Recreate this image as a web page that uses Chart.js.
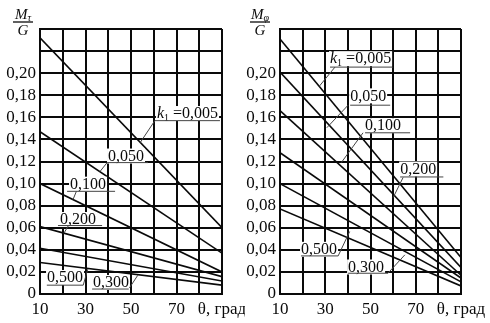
<!DOCTYPE html>
<html>
<head>
<meta charset="utf-8">
<title>M/G – θ</title>
<script src="https://cdn.jsdelivr.net/npm/chart.js"></script>
<style>
  body { margin: 0; background: #fff; }
  .panel { position: absolute; top: 0; width: 245px; height: 323px; }
  #left { left: 0; }
  #right { left: 245px; }
</style>
</head>
<body>
<div class="panel" id="left"><canvas id="chartTau" width="245" height="323"></canvas></div>
<div class="panel" id="right"><canvas id="chartPhi" width="245" height="323"></canvas></div>

<script>
// angle range, degrees
const theta = [10, 90];
const kLabels = ['0,005', '0,050', '0,100', '0,200', '0,300', '0,500'];

// M_tau / G at theta = 10 and theta = 90
const tauStart = [0.232, 0.147, 0.100, 0.061, 0.0415, 0.0285];
const tauEnd   = [0.060, 0.037, 0.020, 0.0157, 0.0118, 0.008];

// M_phi / G at theta = 10 and theta = 90
const phiStart = [0.231, 0.201, 0.166, 0.128, 0.100, 0.077];
const phiEnd   = [0.033, 0.024, 0.017, 0.0145, 0.011, 0.0073];

const xTickLabels = { 10: '10', 30: '30', 50: '50', 70: '70', 90: 'θ, град' };
const yLabelMax = 0.20;

// line captions: text position [θ, value], underline [θ1, θ2, value], leader [θa, va, θb, vb]
const tauNotes = [
  { k: true, text: kLabels[0], at: [61.4, 0.163], under: [60.5, 89.1, 0.157], leader: [60.5, 0.157, 54, 0.137] },
  { text: kLabels[1], at: [39.9, 0.1245], under: [39.5, 57.5, 0.119], leader: [39.5, 0.119, 36.4, 0.111] },
  { text: kLabels[2], at: [23.2, 0.099], under: [21.9, 43, 0.093], leader: [26, 0.093, 24.5, 0.0855] },
  { text: kLabels[3], at: [18.8, 0.067], under: [17.9, 37.3, 0.062], leader: [22.5, 0.062, 20.5, 0.055] },
  { text: kLabels[5], at: [13.1, 0.0145], under: [13, 29, 0.008], leader: [29, 0.008, 31, 0.0225] },
  { text: kLabels[4], at: [33.3, 0.010], under: [32.9, 49, 0.0045], leader: [49.3, 0.0055, 53, 0.017] }
];
const phiNotes = [
  { k: true, text: kLabels[0], at: [32.1, 0.2127], under: [32.1, 60, 0.2055], leader: [34.3, 0.2055, 27.3, 0.188] },
  { text: kLabels[1], at: [41, 0.179], under: [41, 58.7, 0.171], leader: [40.1, 0.171, 30.7, 0.1506] },
  { text: kLabels[2], at: [47.6, 0.152], under: [47.6, 67.5, 0.146], leader: [46.7, 0.146, 37.1, 0.119] },
  { text: kLabels[3], at: [63.1, 0.1127], under: [63.1, 82.2, 0.106], leader: [64.4, 0.1055, 60, 0.0873] },
  { text: kLabels[5], at: [19.3, 0.040], under: [19.3, 35.7, 0.0345], leader: [35.7, 0.0345, 40.8, 0.0566] },
  { text: kLabels[4], at: [40.1, 0.024], under: [40.1, 57.8, 0.0188], leader: [57.8, 0.019, 65.2, 0.0355] }
];

const ink = '#0a0a0a';
const serif = '"Liberation Serif", "DejaVu Serif", serif';

// captions with white backing, underline and leader line
const notesPlugin = {
  id: 'notes',
  afterDatasetsDraw(chart, args, opts) {
    const ctx = chart.ctx;
    const xs = chart.scales.x, ys = chart.scales.y;
    ctx.save();
    ctx.textBaseline = 'middle';
    opts.items.forEach(n => {
      const x0 = xs.getPixelForValue(n.at[0]);
      const y0 = ys.getPixelForValue(n.at[1]);
      // pieces of the caption
      const parts = n.k
        ? [{ t: 'k', f: 'italic 16px ' + serif, dy: 0 }, { t: '1', f: '10px ' + serif, dy: 4 }, { t: ' =' + n.text, f: '16px ' + serif, dy: 0 }]
        : [{ t: n.text, f: '16px ' + serif, dy: 0 }];
      let w = 0;
      parts.forEach(p => { ctx.font = p.f; p.w = ctx.measureText(p.t).width; w += p.w; });
      ctx.fillStyle = '#fff';
      ctx.fillRect(x0 - 1, y0 - 8, w + 2, 15);
      ctx.fillStyle = ink;
      let x = x0;
      parts.forEach(p => { ctx.font = p.f; ctx.fillText(p.t, x, y0 + p.dy); x += p.w; });

      ctx.strokeStyle = '#444';
      ctx.lineWidth = 1;
      ctx.beginPath();
      const uy = ys.getPixelForValue(n.under[2]);
      ctx.moveTo(xs.getPixelForValue(n.under[0]), uy);
      ctx.lineTo(xs.getPixelForValue(n.under[1]), uy);
      ctx.moveTo(xs.getPixelForValue(n.leader[0]), ys.getPixelForValue(n.leader[1]));
      ctx.lineTo(xs.getPixelForValue(n.leader[2]), ys.getPixelForValue(n.leader[3]));
      ctx.stroke();
    });
    ctx.restore();
  }
};

// fraction title above the value axis: M_sub / G
const fractionPlugin = {
  id: 'fraction',
  afterDraw(chart, args, opts) {
    const ctx = chart.ctx;
    const cx = opts.cx;
    ctx.save();
    ctx.fillStyle = ink;
    ctx.strokeStyle = ink;
    ctx.textBaseline = 'alphabetic';
    ctx.font = 'italic 15px ' + serif;
    const mw = ctx.measureText('M').width;
    ctx.font = 'italic 10px ' + serif;
    const sw = ctx.measureText(opts.sub).width;
    const left = cx - (mw + sw) / 2;
    ctx.font = 'italic 15px ' + serif;
    ctx.fillText('M', left, 18.5);
    ctx.font = 'italic 10px ' + serif;
    ctx.fillText(opts.sub, left + mw, 21);
    ctx.lineWidth = 1.3;
    ctx.beginPath();
    ctx.moveTo(cx - 10, 22);
    ctx.lineTo(cx + 10, 22);
    ctx.stroke();
    ctx.font = 'italic 15px ' + serif;
    ctx.textAlign = 'center';
    ctx.fillText('G', cx, 35);
    ctx.restore();
  }
};

function makePanel(canvasId, starts, ends, axisWidth, padRight, notes, sub, titleX) {
  const datasets = starts.map((s, i) => ({
    label: kLabels[i],
    data: [{ x: theta[0], y: s }, { x: theta[1], y: ends[i] }],
    borderColor: ink,
    borderWidth: 1.6,
    pointRadius: 0,
    tension: 0
  }));

  return new Chart(document.getElementById(canvasId), {
    type: 'line',
    data: { datasets: datasets },
    options: {
      responsive: false,
      animation: false,
      devicePixelRatio: 1,
      layout: { padding: { left: 0, right: padRight, top: 29, bottom: 0 } },
      plugins: {
        legend: { display: false },
        tooltip: { enabled: false },
        notes: { items: notes },
        fraction: { sub: sub, cx: titleX }
      },
      scales: {
        x: {
          type: 'linear',
          min: 10,
          max: 90,
          grid: { color: ink, lineWidth: 2, drawTicks: false },
          border: { color: ink, width: 2 },
          ticks: {
            stepSize: 10,
            autoSkip: false,
            maxRotation: 0,
            padding: 5,
            color: ink,
            font: { family: serif, size: 17 },
            callback: v => xTickLabels[v] || ''
          },
          afterFit: s => { s.height = 29; s.paddingLeft = 0; s.paddingRight = 0; }
        },
        y: {
          min: 0,
          max: 0.24,
          grid: { color: ink, lineWidth: 2, drawTicks: false },
          border: { color: ink, width: 2 },
          ticks: {
            stepSize: 0.02,
            autoSkip: false,
            padding: 4,
            color: ink,
            font: { family: serif, size: 17 },
            callback: v => v > yLabelMax + 0.005 ? '' : (v === 0 ? '0' : v.toFixed(2).replace('.', ','))
          },
          afterFit: s => { s.width = axisWidth; s.paddingTop = 0; s.paddingBottom = 0; }
        }
      }
    },
    plugins: [notesPlugin, fractionPlugin]
  });
}

makePanel('chartTau', tauStart, tauEnd, 40, 23, tauNotes, 'τ', 23);
makePanel('chartPhi', phiStart, phiEnd, 35, 29, phiNotes, 'φ', 15);
</script>
</body>
</html>
